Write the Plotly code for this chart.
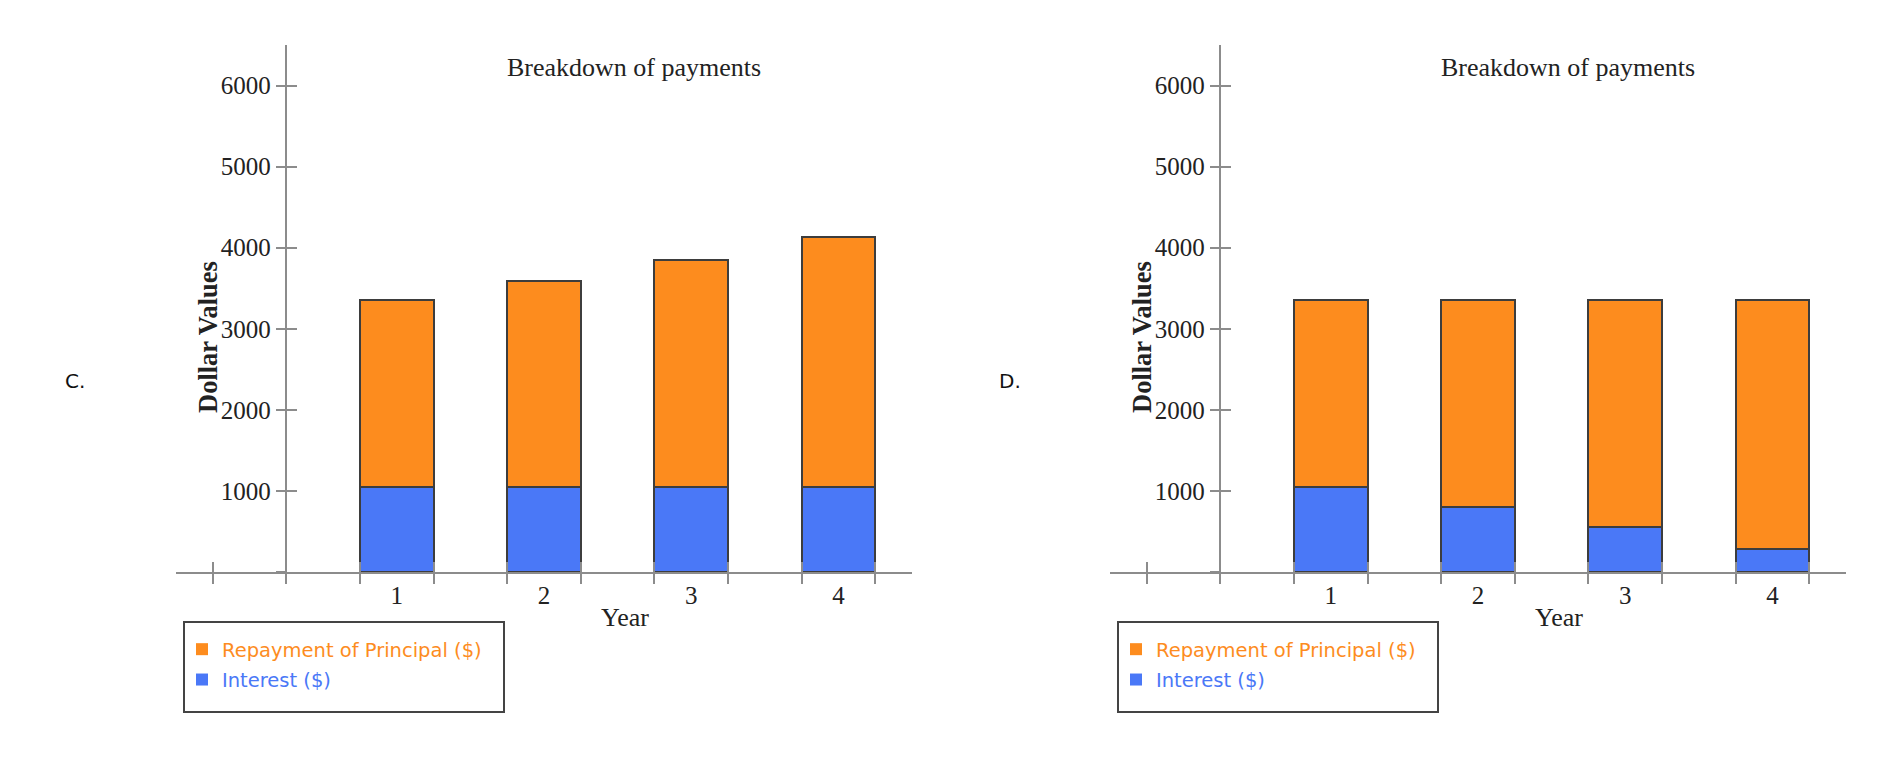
import plotly.graph_objects as go

# ---------------- data ----------------
years = [1, 2, 3, 4]
year_labels = ["1", "2", "3", "4"]
interest_c = [1050, 1050, 1050, 1050]
principal_c = [2310, 2545, 2800, 3080]
interest_d = [1050, 800, 555, 282]
principal_d = [2310, 2560, 2805, 3078]
y_ticks = [0, 1000, 2000, 3000, 4000, 5000, 6000]
y_tick_labels = ["", "1000", "2000", "3000", "4000", "5000", "6000"]
panel_letters = ["C.", "D."]
series_names = ["Repayment of Principal ($)", "Interest ($)"]
chart_title = "Breakdown of payments"
x_title = "Year"
y_title = "Dollar Values"

# ---------------- styling / layout ----------------
W, H = 1894, 782
ORANGE = "#FD8C1E"
BLUE = "#4A78F7"
AXIS = "#8c8c8c"
EDGE = "#3d3d3d"
SERIF = "Liberation Serif, Times New Roman, serif"
SANS = "DejaVu Sans, Verdana, sans-serif"

X_RANGE = [-0.5, 4.5]
Y_RANGE = [0, 6500]
Y_AXIS_AT = 0.25
BAR_W = 0.5
EDGE_TICK0, EDGE_DTICK = -0.25, 0.5

PLOT_LEFT, PLOT_RIGHT = 176, 912
PLOT_TOP, PLOT_BOTTOM = 46, 573
PANEL_SHIFT = 934
OFF_X, OFF_Y = -8, -9


def px(x):
    return (x + OFF_X) / W


def py(y):
    return 1 - (y + OFF_Y) / H


fig = go.Figure()
layout = {}
annotations = []
shapes = []

panels = [(interest_c, principal_c), (interest_d, principal_d)]
for i, (intr, prin) in enumerate(panels):
    shift = i * PANEL_SHIFT
    main = "" if i == 0 else "2"
    over = str(3 + i)
    xa, ya = "x" + main, "y" + main
    xo, yo = "x" + over, "y" + over
    dom_x = [px(PLOT_LEFT + shift), px(PLOT_RIGHT + shift)]
    dom_y = [py(PLOT_BOTTOM), py(PLOT_TOP)]
    frac = (Y_AXIS_AT - X_RANGE[0]) / (X_RANGE[1] - X_RANGE[0])
    ypos = dom_x[0] + frac * (dom_x[1] - dom_x[0])

    fig.add_trace(go.Bar(x=years, y=intr, width=BAR_W, name=series_names[1],
                         marker=dict(color=BLUE, line=dict(color=EDGE, width=2)),
                         xaxis=xa, yaxis=ya, showlegend=False))
    fig.add_trace(go.Bar(x=years, y=prin, width=BAR_W, name=series_names[0],
                         marker=dict(color=ORANGE, line=dict(color=EDGE, width=2)),
                         xaxis=xa, yaxis=ya, showlegend=False))

    leg = "legend" if i == 0 else "legend2"
    for name, col in [(series_names[0], ORANGE), (series_names[1], BLUE)]:
        fig.add_trace(go.Scatter(x=[None], y=[None], mode="markers",
                                 marker=dict(symbol="square", size=12, color=col),
                                 name=f'<span style="color:{col}">{name}</span>',
                                 legend=leg, legendgroup=f"{name}{i}",
                                 xaxis=xa, yaxis=ya, hoverinfo="skip"))
    fig.add_trace(go.Scatter(x=[None], y=[None], xaxis=xo, yaxis=yo,
                             showlegend=False, hoverinfo="skip"))

    tickfont = dict(family=SERIF, size=25, color="#222")
    layout["xaxis" + main] = dict(
        domain=dom_x, anchor=ya, range=X_RANGE, showline=True, linecolor=AXIS,
        linewidth=1.5, tickmode="array", tickvals=years, ticktext=year_labels,
        ticks="", tickfont=tickfont, showgrid=False, zeroline=False,
        minor=dict(tick0=EDGE_TICK0, dtick=EDGE_DTICK, ticks="outside",
                   ticklen=10, tickwidth=1.5, tickcolor=AXIS, showgrid=False),
        fixedrange=True)
    layout["xaxis" + over] = dict(
        domain=dom_x, anchor=yo, overlaying=xa, range=X_RANGE, showline=False,
        showticklabels=False, tickmode="array", tickvals=years, ticks="",
        showgrid=False, zeroline=False,
        minor=dict(tick0=EDGE_TICK0, dtick=EDGE_DTICK, ticks="inside",
                   ticklen=10, tickwidth=1.5, tickcolor=AXIS, showgrid=False),
        fixedrange=True)
    layout["yaxis" + main] = dict(
        domain=dom_y, anchor="free", position=ypos, range=Y_RANGE,
        showline=True, linecolor=AXIS, linewidth=1.5, tickmode="array",
        tickvals=y_ticks, ticktext=y_tick_labels, ticks="outside", ticklen=10,
        tickwidth=1.5, tickcolor=AXIS, tickfont=tickfont, showgrid=False,
        zeroline=False, fixedrange=True)
    layout["yaxis" + over] = dict(
        domain=dom_y, anchor="free", position=ypos, overlaying=ya,
        range=Y_RANGE, showline=False, showticklabels=False, tickmode="array",
        tickvals=y_ticks, ticks="inside", ticklen=10, tickwidth=1.5,
        tickcolor=AXIS, showgrid=False, zeroline=False, fixedrange=True)

    layout[leg] = dict(x=px(182 + shift), y=py(631), xanchor="left",
                       yanchor="top", bgcolor="rgba(0,0,0,0)", borderwidth=0,
                       font=dict(family=SANS, size=19.5), tracegroupgap=2,
                       itemclick=False, itemdoubleclick=False)

    shapes.append(dict(type="rect", xref="paper", yref="paper",
                       x0=px(184 + shift), x1=px(504 + shift),
                       y0=py(713), y1=py(623),
                       line=dict(color="#444", width=2), fillcolor="rgba(0,0,0,0)"))

    annotations += [
        dict(text=chart_title, x=px(634 + shift), y=py(69), xref="paper", yref="paper",
             showarrow=False, xanchor="center", yanchor="middle",
             font=dict(family=SERIF, size=26, color="#222")),
        dict(text=f"<b>{y_title}</b>", x=px(208 + shift), y=py(338), xref="paper",
             yref="paper", showarrow=False, textangle=-90, xanchor="center",
             yanchor="middle", font=dict(family=SERIF, size=26.5, color="#222")),
        dict(text=x_title, x=px(625 + shift), y=py(618), xref="paper", yref="paper",
             showarrow=False, xanchor="center", yanchor="middle",
             font=dict(family=SERIF, size=26, color="#222")),
        dict(text=panel_letters[i], x=px(75 + shift * 1.001), y=py(382), xref="paper",
             yref="paper", showarrow=False, xanchor="center", yanchor="middle",
             font=dict(family=SANS, size=20, color="#111")),
    ]

fig.update_layout(**layout)
fig.update_layout(width=W, height=H, margin=dict(l=0, r=0, t=0, b=0),
                  paper_bgcolor="white", plot_bgcolor="white", barmode="stack",
                  showlegend=True, annotations=annotations, shapes=shapes,
                  hovermode=False)

fig.write_html("out.html")
